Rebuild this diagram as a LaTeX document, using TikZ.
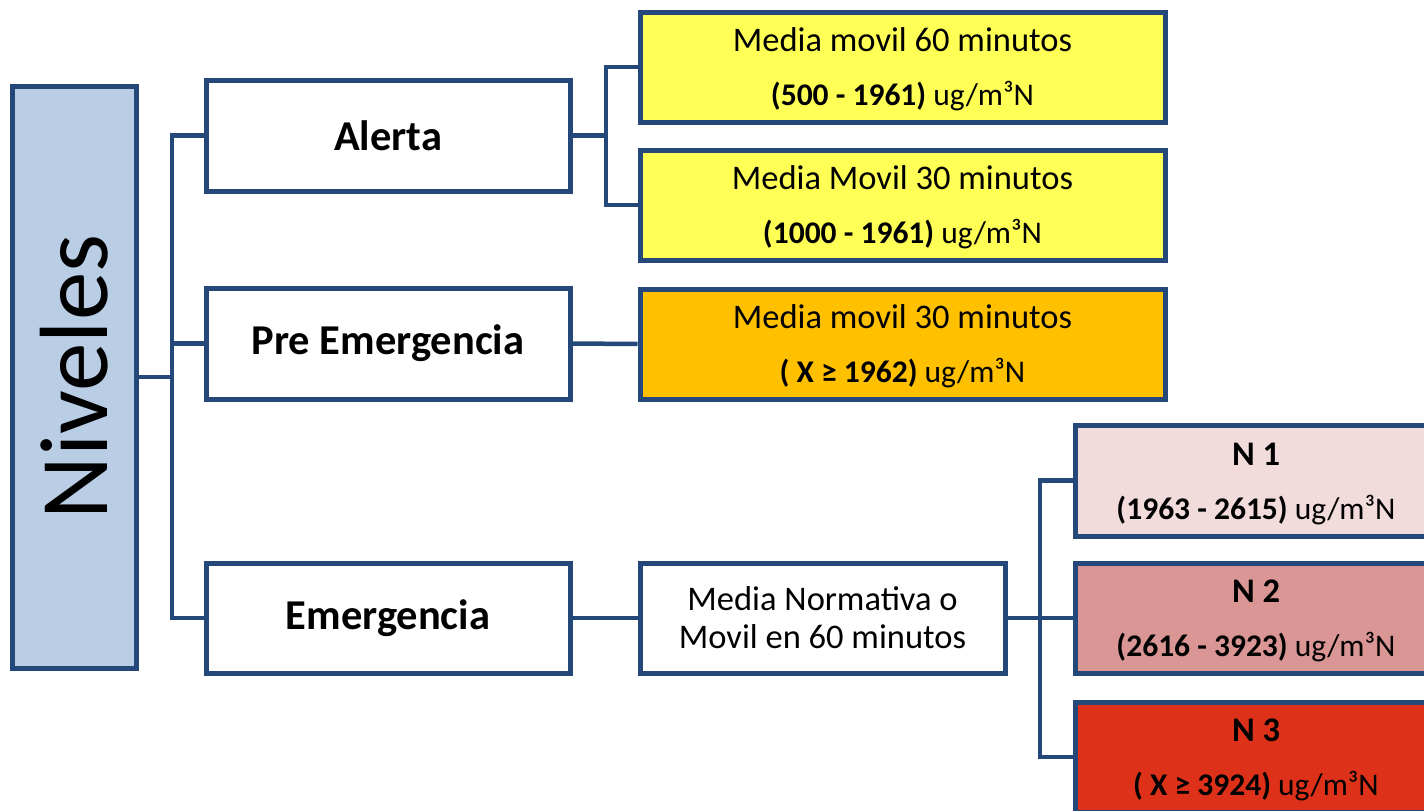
\documentclass[tikz,border=0pt]{standalone}
\usepackage{fontspec}
\setmainfont{Carlito}
\definecolor{navy}{RGB}{36,72,122}
\definecolor{nivfill}{RGB}{185,205,229}
\definecolor{yel}{RGB}{255,255,85}
\definecolor{org}{RGB}{255,192,0}
\definecolor{pink1}{RGB}{242,220,219}
\definecolor{pink2}{RGB}{217,150,148}
\definecolor{red3}{RGB}{221,50,25}
\tikzset{
  box/.style={draw=navy, line width=5pt, inner sep=0pt, align=center, fill=white},
  conn/.style={draw=navy, line width=4.5pt, line join=miter},
  big/.style={font=\fontsize{42.5}{48}\selectfont\bfseries},
  two/.style={font=\fontsize{34.5}{38}\selectfont},
}
\newcommand{\unitx}{ug/m³N}
\newcommand{\twol}[3]{\raisebox{-#3}[\height][\depth]{\begin{tabular}{@{}c@{}}#1\\[16pt]{\fontsize{31.5}{36}\selectfont #2}\end{tabular}}}
\begin{document}
\begin{tikzpicture}[x=1pt,y=-1pt]
\useasboundingbox (0,0) rectangle (1424,811);
\clip (0,0) rectangle (1424,811);
\fill[white] (0,0) rectangle (1424,811);
\node[box, fill=nivfill, minimum width=124pt, minimum height=582pt] (niv) at (74,377) {};
\node[rotate=90, font=\fontsize{97}{100}\selectfont] (nivt) at (niv.center) {Niveles};
\node[box, big, minimum width=364pt, minimum height=111pt] (alerta) at (388,135.5) {Alerta};
\node[box, big, minimum width=364pt, minimum height=111pt] (pre) at (388,343.5) {Pre Emergencia};
\node[box, big, minimum width=364pt, minimum height=110pt] (emer) at (388,618) {Emergencia};
\node[box, two, fill=yel, minimum width=525pt, minimum height=110pt] (m60) at (902.5,67)
  {\twol{Media movil 60 minutos}{\textbf{(500 - 1961)} \unitx}{4pt}};
\node[box, two, fill=yel, minimum width=525pt, minimum height=110pt] (m30) at (902.5,205)
  {\twol{Media Movil 30 minutos}{\textbf{(1000 - 1961)} \unitx}{4pt}};
\node[box, two, fill=org, minimum width=525pt, minimum height=110pt] (pm30) at (902.5,344)
  {\twol{Media movil 30 minutos}{\textbf{( X ≥ 1962)} \unitx}{4pt}};
\node[box, two, minimum width=365pt, minimum height=110pt] (mn) at (822.5,618)
  {Media Normativa o\\Movil en 60 minutos};
\node[box, two, fill=pink1, minimum width=362pt, minimum height=111pt] (n1) at (1256,480.5)
  {\twol{\textbf{N 1}}{\textbf{(1963 - 2615)} \unitx}{4pt}};
\node[box, two, fill=pink2, minimum width=362pt, minimum height=110pt] (n2) at (1256,618)
  {\twol{\textbf{N 2}}{\textbf{(2616 - 3923)} \unitx}{4pt}};
\node[box, two, fill=red3, minimum width=362pt, minimum height=110pt] (n3) at (1256,757)
  {\twol{\textbf{N 3}}{\textbf{( X ≥ 3924)} \unitx}{4pt}};
\coordinate (tr) at (172,0);
\coordinate (ta) at (606,0);
\coordinate (tb) at (1040,0);
\draw[conn] (niv.east) -- (niv.east -| tr);
\draw[conn] (alerta.west) -- (alerta.west -| tr) -- (emer.west -| tr) -- (emer.west);
\draw[conn] (pre.west) -- (pre.west -| tr);
\draw[conn] (alerta.east) -- (alerta.east -| ta);
\draw[conn] (m60.west) -- (m60.west -| ta) -- (m30.west -| ta) -- (m30.west);
\draw[conn] (pre.east) -- (pm30.west);
\draw[conn] (emer.east) -- (mn.west);
\draw[conn] (mn.east) -- (mn.east -| tb);
\draw[conn] (n1.west) -- (n1.west -| tb) -- (n3.west -| tb) -- (n3.west);
\draw[conn] (n2.west) -- (n2.west -| tb);
\end{tikzpicture}
\end{document}
